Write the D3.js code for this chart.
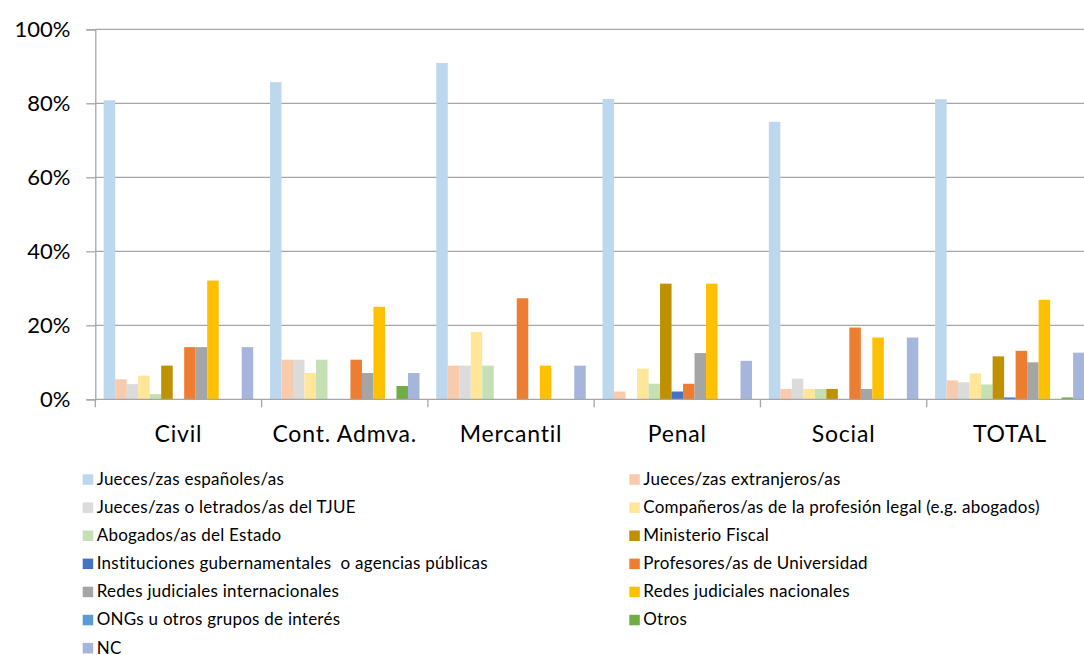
<!DOCTYPE html>
<html><head><meta charset="utf-8">
<script src="https://cdn.jsdelivr.net/npm/d3@7"></script>
<style>body{margin:0;background:#fff;} svg{display:block;font-family:Lato, "Open Sans", sans-serif;} text{white-space:pre;}</style>
</head><body>
<svg id="c" width="1084" height="655"></svg>
<script>
const categories = ["Civil","Cont. Admva.","Mercantil","Penal","Social","TOTAL"];
const seriesNames = [
 "Jueces/zas españoles/as","Jueces/zas extranjeros/as","Jueces/zas o letrados/as del TJUE",
 "Compañeros/as de la profesión legal (e.g. abogados)","Abogados/as del Estado","Ministerio Fiscal",
 "Instituciones gubernamentales  o agencias públicas","Profesores/as de Universidad",
 "Redes judiciales internacionales","Redes judiciales nacionales","ONGs u otros grupos de interés","Otros","NC"];
const seriesColors = ["#BDD7EE","#F8CBAD","#DBDBDB","#FFE699","#C5E0B4","#BF9000","#4472C4","#ED7D31","#A5A5A5","#FFC000","#5B9BD5","#70AD47","#A6B5DB"];
// values in % per series, in category order
const vJuecesEsp   = [80.8, 85.7, 90.9, 81.2, 75.0, 81.1];
const vJuecesExt   = [5.4, 10.7, 9.1, 2.1, 2.8, 5.1];
const vTJUE        = [4.1, 10.7, 9.1, 0, 5.6, 4.6];
const vCompaneros  = [6.4, 7.1, 18.2, 8.3, 2.8, 7.0];
const vAbogados    = [1.4, 10.7, 9.1, 4.2, 2.8, 4.0];
const vFiscal      = [9.1, 0, 0, 31.25, 2.8, 11.6];
const vInstit      = [0, 0, 0, 2.1, 0, 0.5];
const vProfesores  = [14.1, 10.7, 27.3, 4.2, 19.4, 13.1];
const vRedesInt    = [14.1, 7.1, 0, 12.5, 2.8, 10.0];
const vRedesNac    = [32.1, 25.0, 9.1, 31.25, 16.7, 26.9];
const vONGs        = [0, 0, 0, 0, 0, 0];
const vOtros       = [0, 3.6, 0, 0, 0, 0.5];
const vNC          = [14.1, 7.1, 9.1, 10.4, 16.7, 12.6];
const seriesValues = [vJuecesEsp,vJuecesExt,vTJUE,vCompaneros,vAbogados,vFiscal,vInstit,vProfesores,vRedesInt,vRedesNac,vONGs,vOtros,vNC];
const yTicks = [0,20,40,60,80,100];

const svg = d3.select("#c");
const mLeft = 95.3, mTop = 29.3, mBottom = 399.3, plotRight = 1093;
const x0 = d3.scaleBand().domain(categories).range([mLeft, plotRight]).padding(0);
const x1 = d3.scaleBand().domain(d3.range(seriesNames.length)).range([0, x0.bandwidth()]).paddingInner(0).paddingOuter(0.73);
const y = d3.scaleLinear().domain([0,100]).range([mBottom, mTop]);
const gridColor = "#A6A6A6";

// gridlines
svg.append("g").selectAll("line").data(yTicks.filter(d=>d>0)).join("line")
  .attr("x1", mLeft).attr("x2", 1084).attr("y1", d=>y(d)).attr("y2", d=>y(d))
  .attr("stroke", gridColor).attr("stroke-width", 1.3);

// bars
const g = svg.append("g");
categories.forEach((c, ci) => {
  seriesValues.forEach((vals, si) => {
    const v = vals[ci];
    if (v <= 0) return;
    g.append("rect")
      .attr("x", x0(c) + x1(si))
      .attr("width", x1.bandwidth())
      .attr("y", y(v))
      .attr("height", y(0) - y(v))
      .attr("fill", seriesColors[si]);
  });
});

// y axis
const yAxis = d3.axisLeft(y).tickValues(yTicks).tickFormat(d=>d+"%").tickSize(9).tickPadding(16);
const ya = svg.append("g").attr("transform", `translate(${mLeft},0)`).call(yAxis);
ya.select(".domain").attr("stroke", gridColor).attr("stroke-width",1.3);
ya.selectAll(".tick line").attr("stroke", gridColor).attr("stroke-width",1.3);
ya.selectAll("text").attr("font-size", 22).attr("fill", "#000").attr("font-family","Lato, 'Open Sans', sans-serif");

// x axis baseline
svg.append("line").attr("x1", mLeft).attr("x2", 1084).attr("y1", mBottom).attr("y2", mBottom)
  .attr("stroke", gridColor).attr("stroke-width", 1.3);
// category boundary ticks
svg.append("g").selectAll("line").data(categories).join("line")
  .attr("x1", d=>x0(d)).attr("x2", d=>x0(d)).attr("y1", mBottom).attr("y2", mBottom+8)
  .attr("stroke", gridColor).attr("stroke-width", 1.3);
// category labels
svg.append("g").selectAll("text").data(categories).join("text")
  .attr("x", d=>x0(d)+x0.bandwidth()/2).attr("y", 441.5)
  .attr("text-anchor","middle").attr("font-size", 23).attr("letter-spacing", "0.8px")
  .attr("fill","#000").text(d=>d);

// legend
const legend = svg.append("g");
seriesNames.forEach((name, i) => {
  const col = i % 2, row = Math.floor(i/2);
  const lx = col === 0 ? 82.7 : 629.3;
  const ly = 479.3 + row * 28.1;
  legend.append("rect").attr("x", lx).attr("y", ly-5).attr("width", 10.5).attr("height", 10.5).attr("fill", seriesColors[i]);
  legend.append("text").attr("x", lx+14).attr("y", ly + 5.6)
    .attr("font-size", 17).attr("letter-spacing","0.25px").attr("fill","#000").text(name);
});
</script>
</body></html>
